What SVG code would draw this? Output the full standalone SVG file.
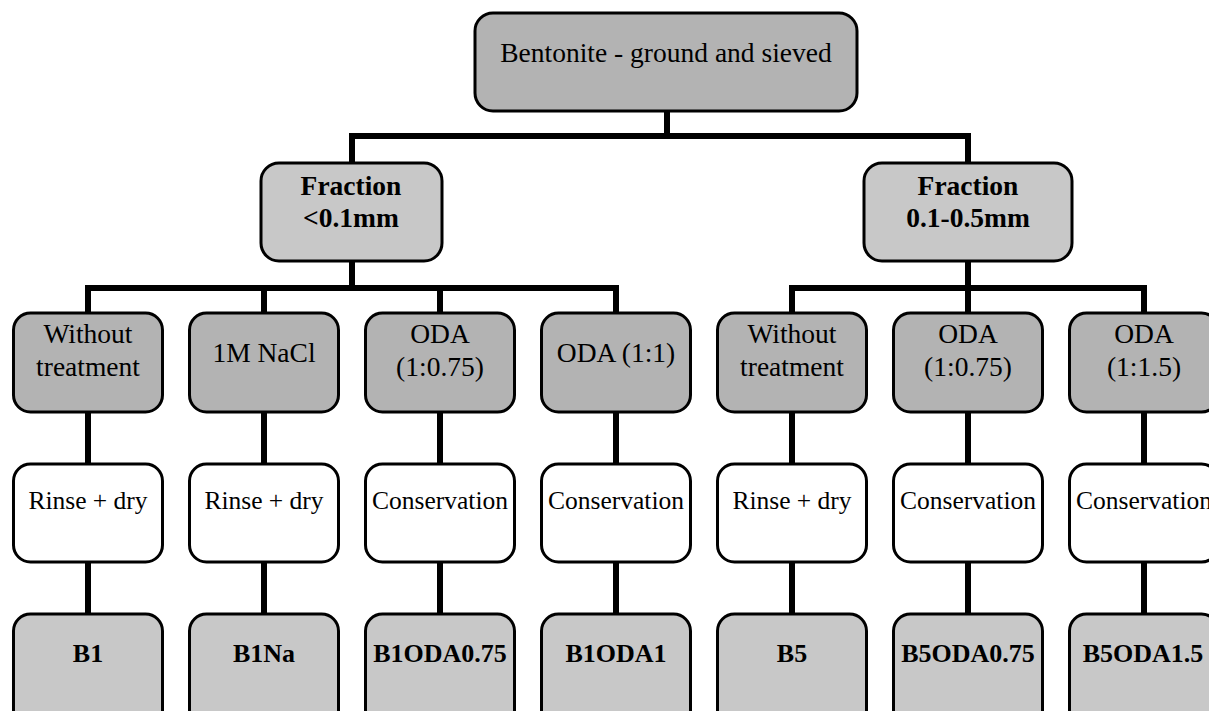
<svg xmlns="http://www.w3.org/2000/svg" width="1209" height="711" viewBox="0 0 1209 711">
<style>
.box{stroke:#000;stroke-width:3}
.dark{fill:#b3b3b3}
.light{fill:#c8c8c8}
.white{fill:#fff}
text{font-family:'Liberation Serif','Times New Roman',Times,'DejaVu Serif',serif;font-size:27.5px;fill:#000;text-anchor:middle}
.b{font-weight:bold}
.s{font-size:25.5px}
.r{font-size:26px}
.c{fill:none;stroke:#000;stroke-width:6;stroke-linejoin:miter;stroke-linecap:butt}
</style>
<rect width="1209" height="711" fill="#fff"/>
<g id="connectors">
<path class="c" d="M667 112V136M352 162V136H968V162"/>
<path class="c" d="M352 262V288M88 313V288H616V313M264 288V313M440 288V313"/>
<path class="c" d="M968 262V313M792 313V288H1144V313"/>
<path class="c" d="M88 412V465M264 412V465M440 412V465M616 412V465M792 412V465M968 412V465M1144 412V465"/>
<path class="c" d="M88 562V615M264 562V615M440 562V615M616 562V615M792 562V615M968 562V615M1144 562V615"/>
</g>
<g font-family="Liberation Serif, serif">
<g id="n-root"><rect class="box dark" x="475" y="13" width="382" height="98" rx="18"/><text x="666" y="62">Bentonite - ground and sieved</text></g>
<g id="n-f1"><rect class="box light" x="261" y="163" width="181" height="98" rx="18"/><text class="b" x="351" y="195">Fraction</text><text class="b" x="351" y="227">&lt;0.1mm</text></g>
<g id="n-f2"><rect class="box light" x="864" y="163" width="208" height="98" rx="18"/><text class="b" x="968" y="195">Fraction</text><text class="b" x="968" y="227">0.1-0.5mm</text></g>

<g id="n-t1"><rect class="box dark" x="13.5" y="313" width="149" height="99" rx="17"/><text x="88" y="343">Without</text><text x="88" y="376">treatment</text></g>
<g id="n-t2"><rect class="box dark" x="189.5" y="313" width="149" height="99" rx="17"/><text x="264" y="362">1M NaCl</text></g>
<g id="n-t3"><rect class="box dark" x="365.5" y="313" width="149" height="99" rx="17"/><text x="440" y="343">ODA</text><text x="440" y="376">(1:0.75)</text></g>
<g id="n-t4"><rect class="box dark" x="541.5" y="313" width="149" height="99" rx="17"/><text x="616" y="362">ODA (1:1)</text></g>
<g id="n-t5"><rect class="box dark" x="717.5" y="313" width="149" height="99" rx="17"/><text x="792" y="343">Without</text><text x="792" y="376">treatment</text></g>
<g id="n-t6"><rect class="box dark" x="893.5" y="313" width="149" height="99" rx="17"/><text x="968" y="343">ODA</text><text x="968" y="376">(1:0.75)</text></g>
<g id="n-t7"><rect class="box dark" x="1069.5" y="313" width="149" height="99" rx="17"/><text x="1144" y="343">ODA</text><text x="1144" y="376">(1:1.5)</text></g>

<g id="n-p1"><rect class="box white" x="13.5" y="464" width="149" height="98" rx="17"/><text class="s" x="88" y="509">Rinse + dry</text></g>
<g id="n-p2"><rect class="box white" x="189.5" y="464" width="149" height="98" rx="17"/><text class="s" x="264" y="509">Rinse + dry</text></g>
<g id="n-p3"><rect class="box white" x="365.5" y="464" width="149" height="98" rx="17"/><text class="s" x="440" y="509">Conservation</text></g>
<g id="n-p4"><rect class="box white" x="541.5" y="464" width="149" height="98" rx="17"/><text class="s" x="616" y="509">Conservation</text></g>
<g id="n-p5"><rect class="box white" x="717.5" y="464" width="149" height="98" rx="17"/><text class="s" x="792" y="509">Rinse + dry</text></g>
<g id="n-p6"><rect class="box white" x="893.5" y="464" width="149" height="98" rx="17"/><text class="s" x="968" y="509">Conservation</text></g>
<g id="n-p7"><rect class="box white" x="1069.5" y="464" width="149" height="98" rx="17"/><text class="s" x="1144" y="509">Conservation</text></g>

<g id="n-r1"><rect class="box light" x="13.5" y="614" width="149" height="120" rx="17"/><text class="b r" x="88" y="662">B1</text></g>
<g id="n-r2"><rect class="box light" x="189.5" y="614" width="149" height="120" rx="17"/><text class="b r" x="264" y="662">B1Na</text></g>
<g id="n-r3"><rect class="box light" x="365.5" y="614" width="149" height="120" rx="17"/><text class="b r" x="440" y="662">B1ODA0.75</text></g>
<g id="n-r4"><rect class="box light" x="541.5" y="614" width="149" height="120" rx="17"/><text class="b r" x="616" y="662">B1ODA1</text></g>
<g id="n-r5"><rect class="box light" x="717.5" y="614" width="149" height="120" rx="17"/><text class="b r" x="792" y="662">B5</text></g>
<g id="n-r6"><rect class="box light" x="893.5" y="614" width="149" height="120" rx="17"/><text class="b r" x="968" y="662">B5ODA0.75</text></g>
<g id="n-r7"><rect class="box light" x="1069.5" y="614" width="149" height="120" rx="17"/><text class="b r" x="1143" y="662">B5ODA1.5</text></g>
</g>
</svg>
